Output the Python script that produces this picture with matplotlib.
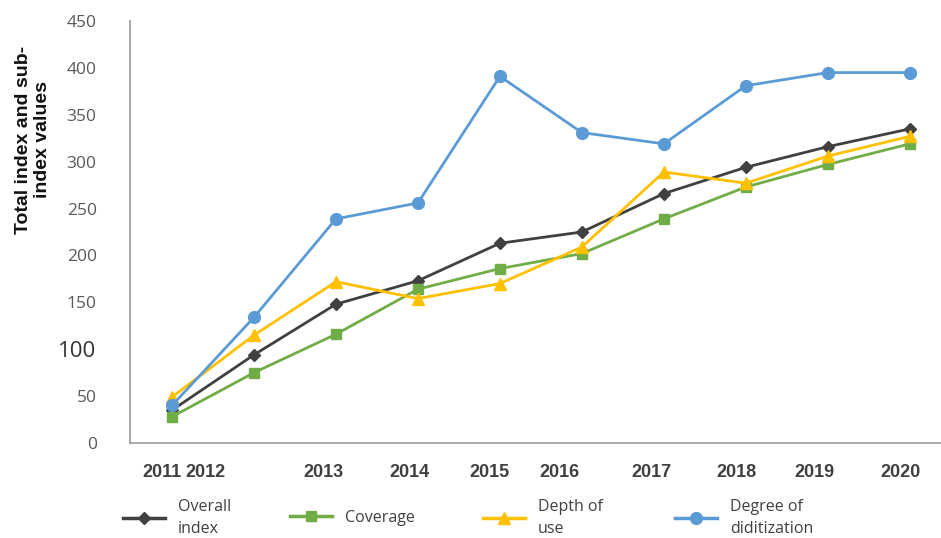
import numpy as np
import matplotlib.pyplot as plt
from matplotlib.lines import Line2D

# data
years = ['2011', '2012', '2013', '2014', '2015', '2016', '2017', '2018', '2019', '2020']
overall = [35, 94, 148, 173, 213, 225, 266, 294, 316, 335]
coverage = [28, 75, 116, 164, 186, 202, 239, 273, 297, 319]
depth = [49, 115, 172, 154, 170, 209, 289, 277, 306, 327]
digit = [40, 134, 239, 256, 391, 331, 319, 381, 395, 395]

# year labels sit a little off the points in the original
label_pos = [-0.12, 0.41, 1.85, 2.9, 3.87, 4.72, 5.85, 6.89, 7.84, 8.88]
yticks = [0, 50, 100, 150, 200, 250, 300, 350, 400, 450]

series = [
    ('Overall\nindex', overall, '#404040', 'D', 6.5),
    ('Coverage', coverage, '#70AD47', 's', 7.5),
    ('Depth of\nuse', depth, '#FFC000', '^', 8),
    ('Degree of\ndiditization', digit, '#5B9BD5', 'o', 8.5),
]

plt.rcParams['font.family'] = ['Liberation Sans', 'DejaVu Sans']

fig = plt.figure(figsize=(9.41, 5.38), dpi=100)
ax = fig.add_axes([130 / 941, 95 / 538, 811 / 941, 422 / 538])

x = np.arange(len(years))
for name, vals, col, mk, ms in series:
    ax.plot(x, vals, color=col, lw=2, marker=mk, ms=ms, label=name)

ax.set_xlim(-0.512, 9.38)
ax.set_ylim(0, 450)

ax.set_yticks(yticks)
ax.tick_params(axis='y', length=0, pad=24, labelsize=12.5, labelcolor='#595959')
for lab in ax.get_yticklabels():
    lab.set_family(['Open Sans', 'DejaVu Sans'])
    if lab.get_text() == '100':
        lab.set_fontsize(16)
        lab.set_color('#333333')

ax.set_xticks(label_pos, years)
ax.tick_params(axis='x', length=0, pad=15, labelsize=13, labelcolor='#404040')
for lab in ax.get_xticklabels():
    lab.set_fontweight('bold')

for s in ['top', 'right']:
    ax.spines[s].set_visible(False)
for s in ['left', 'bottom']:
    ax.spines[s].set_color('#9a9a9a')
    ax.spines[s].set_linewidth(1.2)

fig.text(0.035, 1 - 140 / 538, 'Total index and sub-\nindex values', rotation=90,
         ha='center', va='center', fontsize=14, fontweight='bold', color='#111111')

# one legend per entry so each sits where it does in the reference
handle_x = [123, 290, 483, 675]
for (name, vals, col, mk, ms), hx in zip(series, handle_x):
    h = Line2D([], [], color=col, lw=2.5, marker=mk, ms=ms)
    lg = fig.legend([h], [name], loc='center left',
                    bbox_to_anchor=(hx / 941, 1 - 518 / 538),
                    frameon=False, handlelength=2.6,
                    handletextpad=0.85, borderpad=0, borderaxespad=0,
                    prop={'family': ['Open Sans', 'DejaVu Sans'], 'size': 11.5})
    for t in lg.get_texts():
        t.set_color('#404040')
        t.set_linespacing(1.45)

fig.savefig('out.png', dpi=100)
